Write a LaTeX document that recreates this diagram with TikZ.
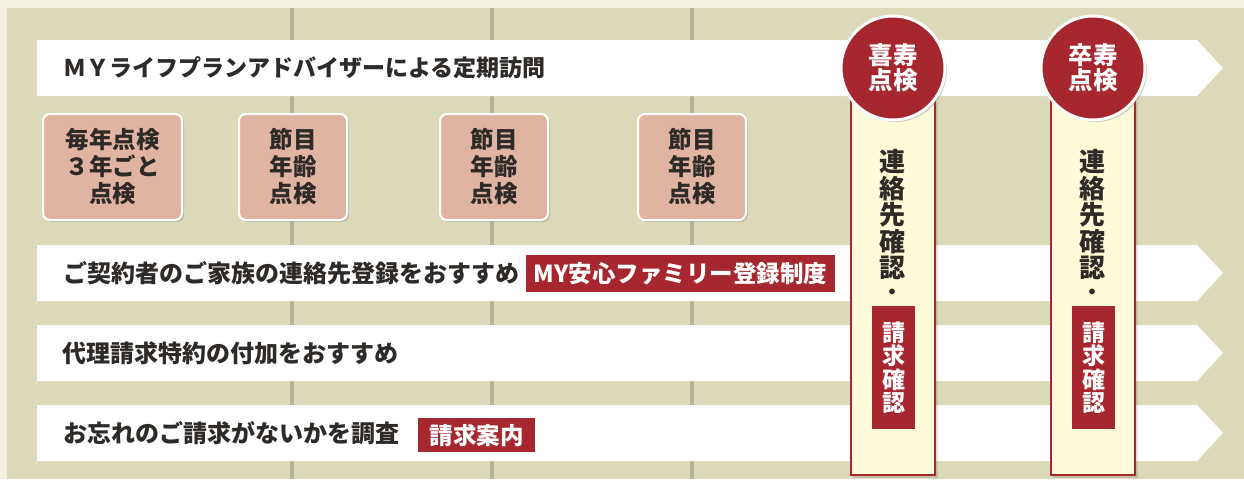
\documentclass[tikz,border=0pt]{standalone}
\usepackage{fontspec}
\setmainfont{Noto Sans CJK JP}
\usetikzlibrary{shadows}
\definecolor{bgout}{RGB}{244,241,226}
\definecolor{beige}{RGB}{221,217,187}
\definecolor{gridc}{RGB}{180,179,155}
\definecolor{pinkc}{RGB}{225,179,163}
\definecolor{redc}{RGB}{166,39,45}
\definecolor{creamc}{RGB}{255,250,215}
\definecolor{txt}{RGB}{45,42,40}
\tikzset{
  gridline/.style={gridc, line width=4pt},
  band/.style={fill=white},
  bandtext/.style={anchor=west, inner sep=0pt, text=txt, font=\fontsize{24}{24}\selectfont\bfseries},
  pinkbox/.style={fill=pinkc, draw=white, line width=2pt, rounded corners=7pt,
    drop shadow={opacity=0.35, shadow xshift=2pt, shadow yshift=-2pt},
    align=center, text=txt, inner sep=0pt, minimum height=106pt,
    font=\fontsize{23.5}{27}\selectfont\bfseries},
  redlabel/.style={fill=redc, text=white, inner sep=0pt, font=\fontsize{23.5}{23.5}\selectfont\bfseries},
  creambox/.style={fill=creamc, draw=redc, line width=2.5pt},
  agecircle/.style={circle, fill=redc, draw=white, line width=3pt, minimum size=104pt, inner sep=0pt,
    drop shadow={opacity=0.4, shadow xshift=2pt, shadow yshift=-2pt},
    align=center, text=white, font=\fontsize{24.5}{25}\selectfont\bfseries},
  vtext/.style={align=center, inner sep=0pt, text=txt, font=\fontsize{26}{26.5}\selectfont\bfseries},
  vred/.style={fill=redc, text=white, align=center, inner sep=0pt, minimum width=43pt, minimum height=123pt,
    font=\fontsize{23}{23.5}\selectfont\bfseries}
}
\begin{document}
\begin{tikzpicture}[x=1pt,y=-1pt]
\useasboundingbox (0,0) rectangle (1244,479);
\fill[bgout] (0,0) rectangle (1244,479);
\fill[beige] (7,8) rectangle (1244,479);
\foreach \gx in {292,492,692} \draw[gridline] (\gx,8) -- (\gx,479);
% bands
\foreach \yt/\yb in {40/96,245/301,325/381,405/461}
  \fill[band] (37,\yt) -- (1197,\yt) -- (1223,{(\yt+\yb)/2}) -- (1197,\yb) -- (37,\yb) -- cycle;
\node[bandtext, font=\fontsize{23}{23}\selectfont\bfseries] (t1) at (63,68) {ＭＹライフプランアドバイザーによる定期訪問};
\node[bandtext] (t2) at (63,273) {ご契約者のご家族の連絡先登録をおすすめ};
\node[bandtext] (t3) at (62,353.5) {代理請求特約の付加をおすすめ};
\node[bandtext] (t4) at (63,433) {お忘れのご請求がないかを調査};
\node[redlabel, minimum width=309pt, minimum height=37pt] (l2) at (680.5,273.5) {MY安心ファミリー登録制度};
\node[redlabel, minimum width=117pt, minimum height=34pt] (l4) at (476.5,435) {請求案内};
% pink boxes
\node[pinkbox, minimum width=139pt] (p1) at (112.5,167) {毎年点検\\３年ごと\\点検};
\node[pinkbox, minimum width=108pt] (p2) at (293,167) {節目\\年齢\\点検};
\node[pinkbox, minimum width=108pt] (p3) at (494,167) {節目\\年齢\\点検};
\node[pinkbox, minimum width=108pt] (p4) at (692,167) {節目\\年齢\\点検};
% cream columns
\fill[black, opacity=0.12] (853,102) rectangle (937.5,477.5);
\fill[black, opacity=0.12] (1053,102) rectangle (1137.5,477.5);
\draw[creambox] (851,100) rectangle (935,475);
\draw[creambox] (1051,100) rectangle (1135,475);
\node[vtext] (v1) at (892,215) {連\\絡\\先\\確\\認};
\node[vtext] (v2) at (1092,215) {連\\絡\\先\\確\\認};
\node[text=txt, inner sep=0pt, font=\fontsize{20}{20}\selectfont\bfseries] (d1) at (892,294) {・};
\node[text=txt, inner sep=0pt, font=\fontsize{20}{20}\selectfont\bfseries] (d2) at (1092,294) {・};
\node[vred] (r1) at (893.5,367.5) {請\\求\\確\\認};
\node[vred] (r2) at (1093.5,367.5) {請\\求\\確\\認};
% circles
\node[agecircle] (c1) at (893,68) {喜寿\\点検};
\node[agecircle] (c2) at (1093,68) {卒寿\\点検};
\end{tikzpicture}
\end{document}
